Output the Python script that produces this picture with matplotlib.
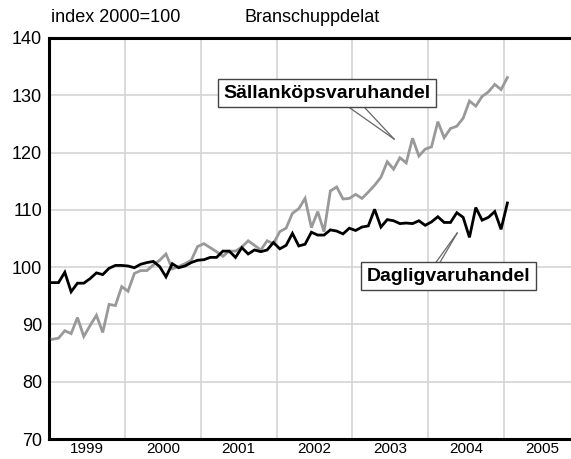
import matplotlib
matplotlib.use("Agg")
import matplotlib.pyplot as plt
import numpy as np

# Monthly index values, Jan 1999 .. Jan 2005 (index 2000=100)
start_year = 1999
dagligvaruhandel = [
    97.3, 97.3, 99.1, 95.7, 97.2, 97.2, 98.0, 99.0, 98.7, 99.8, 100.3, 100.3,
    100.2, 99.9, 100.5, 100.8, 101.0, 100.1, 98.3, 100.6, 99.9, 100.2, 100.8, 101.2,
    101.3, 101.7, 101.7, 102.8, 102.8, 101.7, 103.4, 102.3, 103.0, 102.7, 103.0, 104.3,
    103.2, 103.8, 105.9, 103.7, 104.0, 106.1, 105.6, 105.6, 106.5, 106.3, 105.8, 106.8,
    106.4, 107.0, 107.2, 110.1, 107.0, 108.3, 108.1, 107.6, 107.7, 107.6, 108.1, 107.3,
    107.9, 108.8, 107.8, 107.8, 109.5, 108.7, 105.2, 110.4, 108.2, 108.7, 109.7, 106.6,
    111.2,
]
sallankopsvaruhandel = [
    87.4, 87.6, 88.9, 88.4, 91.2, 87.9, 89.8, 91.6, 88.6, 93.5, 93.3, 96.6,
    95.8, 98.9, 99.4, 99.4, 100.4, 101.2, 102.3, 99.7, 100.1, 100.6, 101.2, 103.6,
    104.1, 103.4, 102.7, 101.9, 102.8, 102.8, 103.5, 104.6, 103.8, 103.0, 104.6, 104.1,
    106.2, 106.8, 109.4, 110.2, 112.0, 106.9, 109.7, 106.2, 113.3, 114.0, 111.9, 112.0,
    112.7, 112.0, 113.1, 114.3, 115.7, 118.4, 117.1, 119.1, 118.2, 122.5, 119.4, 120.6,
    121.0, 125.4, 122.6, 124.2, 124.6, 126.0, 129.0, 128.1, 129.8, 130.6, 131.9, 131.0,
    133.1,
]
year_labels = ["1999", "2000", "2001", "2002", "2003", "2004", "2005"]
y_ticks = [70, 80, 90, 100, 110, 120, 130, 140]

fam = ["Liberation Sans", "DejaVu Sans"]

fig = plt.figure(figsize=(5.71, 4.59), dpi=100)
ax = fig.add_axes([49 / 571, 1 - 439 / 459, 1 - 49 / 571, (439 - 38) / 459])

n = len(dagligvaruhandel)
x = start_year + (np.arange(n) + 0.5) / 12.0

ax.plot(x, sallankopsvaruhandel, color="#999999", lw=2.0, zorder=3,
        solid_joinstyle="miter")
ax.plot(x, dagligvaruhandel, color="black", lw=2.0, zorder=4,
        solid_joinstyle="miter")

ax.set_xlim(1999.0, 2005.88)
ax.set_ylim(70, 140)

# grid at year boundaries
years = [int(y) for y in year_labels]
for yr in years[1:]:
    ax.axvline(yr, color="#d4d4d4", lw=1.2, zorder=1)
for yv in y_ticks[1:-1]:
    ax.axhline(yv, color="#d4d4d4", lw=1.2, zorder=1)

ax.set_yticks(y_ticks)
ax.set_yticklabels([str(v) for v in y_ticks], family=fam, fontsize=13)
ax.set_xticks([yr + 0.5 for yr in years])
ax.set_xticklabels(year_labels, family=fam, fontsize=11)
ax.tick_params(axis="both", length=0)
ax.tick_params(axis="y", pad=5)
ax.tick_params(axis="x", pad=2)

for s in ["left", "top", "bottom"]:
    ax.spines[s].set_linewidth(2.2)
    ax.spines[s].set_color("black")
ax.spines["right"].set_visible(False)

fig.text(51 / 571, 1 - 18 / 459, "index 2000=100", family=fam, fontsize=13,
         ha="left", va="center")
fig.text(312 / 571, 1 - 17 / 459, "Branschuppdelat", family=fam, fontsize=13,
         ha="center", va="center")

# callouts
def callout(text, cx, cy, base1, base2, tip):
    ax.plot([base1[0], tip[0]], [base1[1], tip[1]], color="#666666", lw=0.9,
            zorder=5, clip_on=False)
    ax.plot([base2[0], tip[0]], [base2[1], tip[1]], color="#666666", lw=0.9,
            zorder=5, clip_on=False)
    ax.text(cx, cy, text, family=fam, fontweight="bold", fontsize=14,
            ha="center", va="center", zorder=6,
            bbox=dict(boxstyle="square,pad=0.3", fc="white", ec="#444444", lw=1.0))

def px2d(px, py):
    return (1999 + (px - 49.2) / 75.8, 70 + (439 - py) / 5.73)

callout("Sällanköpsvaruhandel", *px2d(327, 93),
        px2d(350, 108), px2d(365, 108), px2d(394, 139))
callout("Dagligvaruhandel", *px2d(448, 276),
        px2d(436, 262), px2d(440, 262), px2d(457, 233))

fig.savefig("out.png", dpi=100)
